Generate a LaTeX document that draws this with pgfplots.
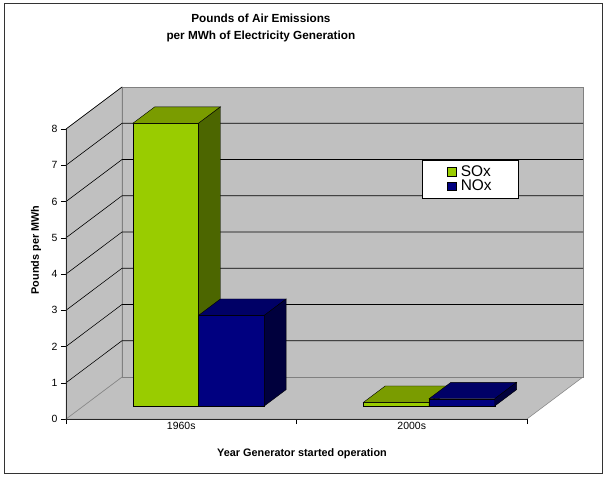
\documentclass[border=0pt]{standalone}
\usepackage{pgfplots}
\pgfplotsset{compat=1.18}
\usepackage{fontspec}
\setmainfont{Liberation Sans}
\definecolor{soxf}{HTML}{99CC00}
\definecolor{soxt}{HTML}{7A9C00}
\definecolor{soxs}{HTML}{4C6600}
\definecolor{noxf}{HTML}{000080}
\definecolor{noxt}{HTML}{000066}
\definecolor{noxs}{HTML}{00003D}
\definecolor{wall}{HTML}{C0C0C0}
\definecolor{edge}{HTML}{808080}
% 3-D bar: #1,#2 = left/right x on the front plane, #3 = value, #4/#5/#6 = front/top/side colours
\newcommand\cube[6]{%
  \pgfmathsetmacro\xa{#1+0.0753}%
  \pgfmathsetmacro\xb{#2+0.0753}%
  \pgfmathsetmacro\xc{#1+0.1701}%
  \pgfmathsetmacro\xd{#2+0.1701}%
  \pgfmathsetmacro\ya{0.3593}%
  \pgfmathsetmacro\yb{#3+0.3593}%
  \pgfmathsetmacro\yc{0.8113}%
  \pgfmathsetmacro\yd{#3+0.8113}%
  \edef\tmp{%
    \noexpand\addplot[forget plot, fill=#4, draw=black, line width=0.4pt] coordinates {(\xa,\ya) (\xb,\ya) (\xb,\yb) (\xa,\yb)} -- cycle;%
    \noexpand\addplot[forget plot, fill=#5, draw=black, line width=0.4pt] coordinates {(\xa,\yb) (\xb,\yb) (\xd,\yd) (\xc,\yd)} -- cycle;%
    \noexpand\addplot[forget plot, fill=#6, draw=black, line width=0.4pt] coordinates {(\xb,\ya) (\xb,\yb) (\xd,\yd) (\xd,\yc)} -- cycle;%
  }\tmp}
\begin{document}
\begin{tikzpicture}
\fill[white] (-66bp,-58bp) rectangle (541bp,419bp);
\begin{axis}[
  at={(0,0)}, anchor=south west,
  scale only axis, width=517bp, height=332bp,
  xmin=0, xmax=2.243, ymin=0, ymax=9.159,
  clip=false,
  axis line style={draw=none},
  axis x line*=bottom, axis y line*=left,
  xtick={0,1,2}, xticklabels={},
  extra x ticks={0.5,1.5}, extra x tick labels={1960s,2000s},
  extra x tick style={major tick length=0pt},
  ytick={0,1,...,8},
  tick align=outside, major tick length=5bp,
  tick style={black, line width=0.5pt},
  /pgf/number format/assume math mode=true,
  ticklabel style={font=\fontsize{10.5}{12}\selectfont},
  xlabel={Year Generator started operation},
  xlabel style={at={(axis description cs:0.4565,-0.1054)}, anchor=center, font=\bfseries\fontsize{10.9}{12}\selectfont},
  ylabel={Pounds per MWh},
  ylabel style={at={(axis description cs:-0.058,0.509)}, anchor=center, rotate=0, font=\bfseries\fontsize{10.9}{12}\selectfont},
  title={Pounds of Air Emissions\\per MWh of Electricity Generation},
  title style={at={(axis description cs:0.377,1.161)}, anchor=center, align=center, font=\bfseries\fontsize{11.8}{17}\selectfont},
  legend style={at={(axis description cs:0.689,0.781)}, anchor=north west, draw=black, fill=white,
     font=\fontsize{15.5}{15.6}\selectfont, inner xsep=25bp, inner ysep=3.5bp, row sep=-1.5bp,
     /tikz/every odd column/.append style={column sep=2bp}},
  legend cell align=left,
  legend image code/.code={\draw[#1,draw=black,line width=0.4pt] (0bp,-4.3bp) rectangle (9bp,4.3bp);},
]
% walls
\addplot[forget plot, fill=wall, draw=edge, line width=0.5pt] coordinates {(0,0) (2,0) (2.243,1.159) (0.243,1.159)} -- cycle;
\addplot[forget plot, fill=wall, draw=edge, line width=0.5pt] coordinates {(0,0) (0,8) (0.243,9.159) (0.243,1.159)} -- cycle;
\addplot[forget plot, fill=wall, draw=edge, line width=0.5pt] coordinates {(0.243,1.159) (2.243,1.159) (2.243,9.159) (0.243,9.159)} -- cycle;
% gridlines
\addplot[forget plot, black, line width=0.6pt] coordinates {(0,1) (0.243,2.159) (2.243,2.159)};
\addplot[forget plot, black, line width=0.6pt] coordinates {(0,2) (0.243,3.159) (2.243,3.159)};
\addplot[forget plot, black, line width=0.6pt] coordinates {(0,3) (0.243,4.159) (2.243,4.159)};
\addplot[forget plot, black, line width=0.6pt] coordinates {(0,4) (0.243,5.159) (2.243,5.159)};
\addplot[forget plot, black, line width=0.6pt] coordinates {(0,5) (0.243,6.159) (2.243,6.159)};
\addplot[forget plot, black, line width=0.6pt] coordinates {(0,6) (0.243,7.159) (2.243,7.159)};
\addplot[forget plot, black, line width=0.6pt] coordinates {(0,7) (0.243,8.159) (2.243,8.159)};
\addplot[forget plot, black, line width=0.6pt] coordinates {(0,8) (0.243,9.159)};
% axis edges
\addplot[forget plot, black!85, line width=0.6pt] coordinates {(0,8) (0,0) (2,0)};
% bars: 1960s SOx 7.8, NOx 2.5; 2000s SOx 0.1, NOx 0.2
\cube{0.215}{0.500}{7.8}{soxf}{soxt}{soxs}
\cube{0.500}{0.785}{2.5}{noxf}{noxt}{noxs}
\cube{1.215}{1.500}{0.1}{soxf}{soxt}{soxs}
\cube{1.500}{1.785}{0.2}{noxf}{noxt}{noxs}
\addlegendimage{fill=soxf}
\addlegendentry{SOx}
\addlegendimage{fill=noxf}
\addlegendentry{NOx}
\end{axis}
\draw[black!80, line width=1pt] (-62bp,-54bp) rectangle (536bp,415bp);
\end{tikzpicture}
\end{document}
